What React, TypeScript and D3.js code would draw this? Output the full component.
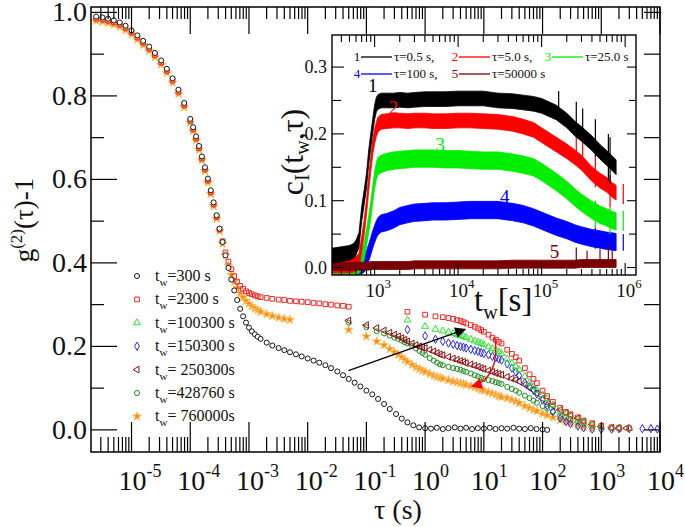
import React from "react";
import * as d3 from "d3";

const FONT = "'Liberation Serif', 'Times New Roman', Times, 'DejaVu Serif', serif";

// ---------------- main plot data : g2(tau)-1 ----------------
const tauEarly = [
  2.5e-6, 3.2e-6, 4e-6, 5e-6, 6.3e-6, 7.9e-6, 1e-5, 1.26e-5, 1.58e-5, 2e-5, 2.5e-5, 3.2e-5, 4e-5, 5e-5, 6.3e-5, 7.9e-5,
  1e-4, 1.12e-4, 1.26e-4, 1.41e-4, 1.58e-4, 1.78e-4, 2e-4, 2.24e-4, 2.5e-4, 2.82e-4, 3.16e-4, 3.55e-4, 3.98e-4, 4.47e-4,
  5.01e-4, 5.62e-4, 6.31e-4, 7.08e-4, 7.94e-4, 8.91e-4, 1e-3, 1.12e-3, 1.26e-3, 1.41e-3, 1.58e-3,
  2e-3, 2.5e-3, 3.2e-3, 4e-3, 5e-3, 6.3e-3, 7.9e-3, 0.01, 0.0126, 0.0158, 0.02, 0.025, 0.032, 0.04, 0.05, 0.063, 0.079,
  0.1, 0.126, 0.158, 0.2, 0.25, 0.32, 0.4, 0.5, 0.63, 0.79, 1, 1.26, 1.58, 2, 2.5, 3.2, 4, 5, 6.3, 7.9, 10, 12.6, 15.8,
  20, 25, 32, 40, 50, 63, 79, 100, 120,
];
const g300 = [
  0.99, 0.988, 0.985, 0.981, 0.976, 0.968, 0.957, 0.945, 0.932, 0.918, 0.903, 0.885, 0.865, 0.842, 0.815, 0.783,
  0.745, 0.725, 0.703, 0.68, 0.655, 0.629, 0.602, 0.574, 0.545, 0.514, 0.482, 0.45, 0.418, 0.388, 0.36, 0.334, 0.311,
  0.29, 0.272, 0.257, 0.245, 0.236, 0.229, 0.223, 0.218,
  0.209, 0.202, 0.196, 0.191, 0.186, 0.181, 0.176, 0.171, 0.166, 0.161, 0.155, 0.148, 0.14, 0.131, 0.122, 0.113, 0.104,
  0.094, 0.085, 0.074, 0.062, 0.05, 0.038, 0.027, 0.018, 0.011, 0.006, 0.004, 0.003, 0.005, 0.002, 0.004, 0.006, 0.003,
  0.005, 0.002, 0.004, 0.003, 0.005, 0.002, 0.004, 0.003, 0.005, 0.003, 0.002, 0.004, 0.002, 0.001, 0.0,
];
const g2300a = [
  0.985, 0.983, 0.98, 0.976, 0.971, 0.963, 0.952, 0.94, 0.927, 0.913, 0.898, 0.88, 0.86, 0.837, 0.81, 0.778,
  0.74, 0.72, 0.698, 0.675, 0.65, 0.624, 0.597, 0.569, 0.54, 0.51, 0.48, 0.452, 0.425, 0.403, 0.385, 0.368, 0.355,
  0.345, 0.338, 0.332, 0.328, 0.325, 0.322, 0.32, 0.318,
  0.316, 0.314, 0.312, 0.311, 0.309, 0.308, 0.307, 0.306, 0.304, 0.303, 0.301, 0.3, 0.298, 0.297, 0.295,
];
const g760000a = [
  0.98, 0.978, 0.975, 0.971, 0.966, 0.958, 0.947, 0.935, 0.922, 0.908, 0.893, 0.875, 0.855, 0.832, 0.805, 0.773,
  0.736, 0.716, 0.694, 0.671, 0.646, 0.62, 0.593, 0.565, 0.536, 0.506, 0.476, 0.446, 0.418, 0.393, 0.372, 0.355, 0.34,
  0.328, 0.318, 0.309, 0.302, 0.296, 0.291, 0.287, 0.283,
  0.277, 0.273, 0.269, 0.266, 0.264,
];

const tauA = [
  0.05, 0.1, 0.15, 0.2, 0.25, 0.3, 0.35, 0.4, 0.45, 0.5, 0.6, 0.7, 0.8, 0.9, 1, 1.2, 1.4, 1.6, 1.8, 2, 2.5, 3, 3.5, 4,
  4.5, 5, 6, 7, 8, 9, 10, 12, 14, 16, 18, 20, 25, 30, 35, 40, 50, 60, 70, 80, 100, 120, 150, 200, 250, 300, 400, 500,
  700, 1000, 1500, 2000, 2700,
];
const g250300 = [
  0.262, 0.251, 0.244, 0.238, 0.233, 0.228, 0.224, 0.22, 0.216, 0.212, 0.207, 0.203, 0.2, 0.198, 0.196, 0.192, 0.188,
  0.184, 0.181, 0.179, 0.175, 0.171, 0.168, 0.165, 0.163, 0.16, 0.157, 0.154, 0.151, 0.148, 0.146, 0.142, 0.139, 0.136,
  0.134, 0.132, 0.127, 0.123, 0.12, 0.116, 0.108, 0.101, 0.095, 0.088, 0.075, 0.066, 0.058, 0.048, 0.04, 0.034, 0.028,
  0.02, 0.013, 0.008, 0.005, 0.004, 0.004,
];
const g428760 = [
  0.257, 0.246, 0.236, 0.231, 0.226, 0.221, 0.218, 0.214, 0.21, 0.207, 0.201, 0.195, 0.189, 0.184, 0.18, 0.172, 0.166,
  0.161, 0.157, 0.155, 0.151, 0.148, 0.146, 0.144, 0.141, 0.139, 0.135, 0.131, 0.128, 0.125, 0.122, 0.119, 0.117, 0.114,
  0.112, 0.11, 0.103, 0.098, 0.094, 0.089, 0.082, 0.076, 0.07, 0.065, 0.057, 0.051, 0.043, 0.034, 0.029, 0.025, 0.02,
  0.016,
];
const g760000b = [
  0.24, 0.224, 0.212, 0.203, 0.194, 0.186, 0.18, 0.174, 0.168, 0.163, 0.156, 0.15, 0.146, 0.142, 0.139, 0.134, 0.13,
  0.127, 0.125, 0.123, 0.119, 0.116, 0.114, 0.112, 0.11, 0.108, 0.105, 0.102, 0.099, 0.096, 0.094, 0.09, 0.087, 0.084,
  0.081, 0.079, 0.076, 0.072, 0.068, 0.064, 0.057, 0.052, 0.048, 0.045, 0.039, 0.035, 0.03, 0.024, 0.02, 0.016, 0.011,
  0.007, 0.004,
];

const tauB = [
  0.5, 1, 1.5, 2, 2.5, 3, 3.5, 4, 4.5, 5, 6, 7, 8, 9, 10, 12, 14, 16, 18, 20, 25, 30, 35, 40, 50, 60, 70, 80, 100, 120,
  150, 200, 250, 300, 400, 500, 700, 1000, 1500, 2000, 3000, 5000, 7000, 9000,
];
const g2300b = [
  0.283, 0.276, 0.272, 0.27, 0.268, 0.266, 0.263, 0.261, 0.258, 0.255, 0.251, 0.247, 0.243, 0.239, 0.235, 0.228, 0.221,
  0.216, 0.211, 0.207, 0.192, 0.182, 0.174, 0.166, 0.148, 0.133, 0.122, 0.112, 0.094, 0.081, 0.067, 0.053, 0.043, 0.037,
  0.03, 0.022, 0.016, 0.009, 0.006, 0.005, 0.004,
];
const g100300 = [
  0.263, 0.248, 0.241, 0.237, 0.234, 0.231, 0.228, 0.226, 0.224, 0.221, 0.217, 0.213, 0.21, 0.207, 0.204, 0.199, 0.195,
  0.191, 0.187, 0.183, 0.17, 0.16, 0.152, 0.144, 0.128, 0.113, 0.103, 0.094, 0.084, 0.075, 0.06, 0.045, 0.04, 0.035,
  0.024, 0.018, 0.012, 0.007, 0.005, 0.005, 0.004,
];
const g150300 = [
  0.24, 0.225, 0.217, 0.212, 0.208, 0.205, 0.202, 0.2, 0.198, 0.196, 0.193, 0.19, 0.188, 0.185, 0.183, 0.18, 0.176,
  0.173, 0.17, 0.167, 0.158, 0.148, 0.139, 0.13, 0.113, 0.104, 0.095, 0.086, 0.072, 0.058, 0.044, 0.028, 0.02, 0.015,
  0.009, 0.005, 0.002, 0.001, 0.002, 0.003, 0.003, 0.003, 0.003, 0.002,
];

const legendLabels = ["=300 s", "=2300 s", "=100300 s", "=150300 s", "= 250300s", "=428760 s", "= 760000s"];
const xTickExps = [-5, -4, -3, -2, -1, 0, 1, 2, 3, 4];
const yTickValues = [0, 0.2, 0.4, 0.6, 0.8, 1.0];
const yTickLabels = ["0.0", "0.2", "0.4", "0.6", "0.8", "1.0"];

// arrows (data coordinates)
const blackArrow = [[0.0495, 0.142], [4.8, 0.241]];
const redArrow = [[15.5, 0.22], [18.9, 0.125], [6.3, 0.104]];

// ---------------- inset data : c_I(t_w, tau) ----------------
const tw = [
  310, 400, 500, 560, 600, 650, 700, 750, 800, 850, 900, 950, 1000, 1050, 1100, 1200, 1400, 1700, 2000, 2500, 3000,
  4000, 5000, 7000, 10000, 14000, 20000, 30000, 45000, 60000, 80000, 100000, 150000, 200000, 250000, 300000, 400000,
  500000, 600000, 700000, 780000,
];
const cI1 = [
  0.018, 0.02, 0.022, 0.025, 0.03, 0.041, 0.08, 0.105, 0.13, 0.165, 0.19, 0.212, 0.232, 0.244, 0.248, 0.25, 0.25, 0.25,
  0.251, 0.25, 0.251, 0.252, 0.252, 0.252, 0.253, 0.253, 0.253, 0.25, 0.249, 0.247, 0.245, 0.242, 0.232, 0.22, 0.208,
  0.2, 0.186, 0.173, 0.164, 0.156, 0.15,
];
const cI2 = [
  0.003, 0.003, 0.003, 0.004, 0.006, 0.01, 0.035, 0.06, 0.09, 0.125, 0.155, 0.18, 0.196, 0.207, 0.214, 0.218, 0.219,
  0.22, 0.22, 0.219, 0.22, 0.22, 0.219, 0.219, 0.22, 0.22, 0.219, 0.218, 0.215, 0.211, 0.206, 0.198, 0.184, 0.174,
  0.165, 0.157, 0.14, 0.13, 0.124, 0.116, 0.112,
];
const cI3 = [
  0.003, 0.003, 0.003, 0.003, 0.003, 0.004, 0.01, 0.025, 0.045, 0.065, 0.085, 0.11, 0.13, 0.145, 0.152, 0.155, 0.158,
  0.16, 0.161, 0.162, 0.163, 0.163, 0.163, 0.162, 0.162, 0.161, 0.16, 0.16, 0.157, 0.154, 0.15, 0.143, 0.128, 0.116,
  0.105, 0.097, 0.086, 0.079, 0.075, 0.071, 0.069,
];
const cI4 = [
  0.003, 0.003, 0.003, 0.003, 0.003, 0.003, 0.004, 0.006, 0.012, 0.022, 0.032, 0.042, 0.05, 0.057, 0.062, 0.066, 0.068,
  0.072, 0.077, 0.08, 0.082, 0.083, 0.084, 0.084, 0.085, 0.086, 0.086, 0.086, 0.083, 0.08, 0.075, 0.07, 0.061, 0.056,
  0.051, 0.048, 0.044, 0.042, 0.04, 0.039, 0.038,
];
const cI5 = [
  0.002, 0.002, 0.002, 0.002, 0.002, 0.002, 0.002, 0.002, 0.002, 0.002, 0.003, 0.003, 0.003, 0.003, 0.003, 0.003,
  0.003, 0.003, 0.003, 0.003, 0.004, 0.004, 0.004, 0.004, 0.004, 0.004, 0.004, 0.004, 0.005, 0.005, 0.005, 0.005,
  0.005, 0.005, 0.005, 0.006, 0.006, 0.006, 0.006, 0.006, 0.006,
];
const insetNoise = [0.011, 0.011, 0.013, 0.013, 0.006];
const spikes1 = [[160000, 0.23, 0.264], [260000, 0.2, 0.248], [310000, 0.19, 0.238], [440000, 0.165, 0.222], [630000, 0.13, 0.2], [660000, 0.125, 0.195]];
const spikes2 = [[260000, 0.16, 0.205], [310000, 0.15, 0.195], [440000, 0.12, 0.165], [660000, 0.09, 0.138], [950000, 0.095, 0.125]];
const spikes3 = [[440000, 0.06, 0.1], [660000, 0.05, 0.09], [950000, 0.055, 0.085]];
const spikes4 = [[440000, 0.028, 0.06], [950000, 0.025, 0.05]];
const spikes5 = [[260000, 0.0, 0.03], [350000, 0.0, 0.025], [500000, 0.0, 0.028], [630000, 0.0, 0.032], [700000, 0.0, 0.026]];
const insetNums = ["1", "2", "3", "4", "5"];
const insetLegend = ["τ=0.5 s,", "τ=5.0 s,", "τ=25.0 s", "τ=100 s,", "τ=50000 s"];
const insetLabelPos = [[950, 0.262], [1680, 0.23], [6100, 0.174], [36300, 0.097], [143000, 0.014]];
const insetXExps = [3, 4, 5, 6];
const insetYTicks = [0, 0.1, 0.2, 0.3];

// ---------------- styles ----------------
const INSET_COLORS = ["#000000", "#ff0000", "#00ee00", "#0000ff", "#7a0000"];

export default function App() {
  const xM = d3.scaleLog().domain([10 ** -5.69, 1e4]).range([91, 660]);
  const yM = d3.scaleLinear().domain([-0.053, 1.013]).range([452, 7]);
  const xI = d3.scaleLog().domain([10 ** 2.49, 10 ** 6.13]).range([332, 636]);
  const yI = d3.scaleLinear().domain([-0.0112, 0.348]).range([275, 35]);

  const sym = (type: any, size: number) => d3.symbol().type(type).size(size)() as string;
  const shapes = {
    circle: sym(d3.symbolCircle, 20),
    square: sym(d3.symbolSquare, 22),
    triangle: sym(d3.symbolTriangle, 20),
    diamond: sym(d3.symbolDiamond, 20),
    star: sym(d3.symbolStar, 24),
  };

  const series = [
    { label: legendLabels[0], shape: shapes.circle, color: "#151515", fill: "#ffffff", rot: 0, segs: [[tauEarly, g300]] },
    { label: legendLabels[1], shape: shapes.square, color: "#f02828", fill: "none", rot: 0, segs: [[tauEarly, g2300a], [tauB, g2300b]] },
    { label: legendLabels[2], shape: shapes.triangle, color: "#2fe02f", fill: "none", rot: 0, segs: [[tauB, g100300]] },
    { label: legendLabels[3], shape: shapes.diamond, color: "#2a2af0", fill: "none", rot: 0, segs: [[tauB, g150300]] },
    { label: legendLabels[4], shape: shapes.triangle, color: "#8a1212", fill: "none", rot: -90, segs: [[tauA, g250300]] },
    { label: legendLabels[5], shape: shapes.circle, color: "#1f8a1f", fill: "none", rot: 0, segs: [[tauA, g428760]] },
    { label: legendLabels[6], shape: shapes.star, color: "#ffc060", fill: "#ff8a10", rot: 0, segs: [[tauEarly, g760000a], [tauA, g760000b]] },
  ];
  const drawOrder = [6, 5, 4, 3, 2, 1, 0];

  const logTicks = (lo: number, hi: number) => {
    const out: { v: number; major: boolean }[] = [];
    for (let e = Math.floor(Math.log10(lo)); e <= Math.ceil(Math.log10(hi)); e++) {
      for (let k = 1; k <= 9; k++) {
        const v = k * Math.pow(10, e);
        if (v >= lo * 0.9999 && v <= hi * 1.0001) out.push({ v, major: k === 1 });
      }
    }
    return out;
  };
  const mainXTicks = logTicks(10 ** -5.69, 1e4);
  const insetXTicks = logTicks(10 ** 2.49, 10 ** 6.13);
  const mainYTicks = d3.range(0, 11).map((i) => ({ v: i / 10, major: i % 2 === 0 }));
  const insetYT = d3.range(0, 7).map((i) => ({ v: i * 0.05, major: i % 2 === 0 }));

  const insetCurves = [cI1, cI2, cI3, cI4, cI5];
  const insetSpikes = [spikes1, spikes2, spikes3, spikes4, spikes5];
  const insetOrder = [3, 2, 1, 4, 0];

  const area = (vals: number[], w: number) =>
    d3
      .area<number>()
      .x((_, i) => xI(tw[i]))
      .y0((d) => yI(d - w))
      .y1((d) => yI(d + w))(vals) as string;

  const redPath = (() => {
    const p = d3.path();
    p.moveTo(xM(redArrow[0][0]), yM(redArrow[0][1]));
    p.quadraticCurveTo(xM(redArrow[1][0]), yM(redArrow[1][1]), xM(redArrow[2][0]), yM(redArrow[2][1]));
    return p.toString();
  })();

  const insetLegendPos = [
    [357, 57],
    [455, 57],
    [548, 57],
    [357, 74],
    [455, 74],
  ];

  const tf = { fontFamily: FONT };

  return (
    <svg
      width={685}
      height={527}
      viewBox="0 0 685 527"
      style={{ position: "absolute", left: 0, top: 0, display: "block", background: "#fff", fontFamily: FONT }}
    >
      <style>{`text, tspan { font-family: "Liberation Serif", "Times New Roman", Times, serif; }`}</style>
      <defs>
        <marker id="ahBlack" viewBox="0 0 10 10" refX="9" refY="5" markerWidth="14" markerHeight="11" markerUnits="userSpaceOnUse" orient="auto">
          <path d="M0,0 L10,5 L0,10 z" fill="#000" />
        </marker>
        <marker id="ahRed" viewBox="0 0 10 10" refX="9" refY="5" markerWidth="14" markerHeight="11" markerUnits="userSpaceOnUse" orient="auto">
          <path d="M0,0 L10,5 L0,10 z" fill="#ff0000" />
        </marker>
        <clipPath id="insetClip">
          <rect x={332} y={35} width={304} height={240} />
        </clipPath>
      </defs>
      <rect x={0} y={0} width={685} height={527} fill="#fff" />

      {drawOrder.map((si) => {
        const s = series[si];
        return (
          <g key={si}>
            {s.segs.map(([taus, vals], k) =>
              (vals as number[]).map((v, i) => (
                <path
                  key={k + "-" + i}
                  d={s.shape}
                  transform={`translate(${xM((taus as number[])[i])},${yM(v)})${s.rot ? ` rotate(${s.rot})` : ""}`}
                  fill={s.fill}
                  stroke={s.color}
                  strokeWidth={1}
                />
              ))
            )}
          </g>
        );
      })}

      <line
        x1={xM(blackArrow[0][0])}
        y1={yM(blackArrow[0][1])}
        x2={xM(blackArrow[1][0])}
        y2={yM(blackArrow[1][1])}
        stroke="#000"
        strokeWidth={1.3}
        markerEnd="url(#ahBlack)"
      />
      <path d={redPath} fill="none" stroke="#ff0000" strokeWidth={1.3} markerEnd="url(#ahRed)" />

      <rect x={91} y={7} width={569} height={445} fill="none" stroke="#000" strokeWidth={1.5} />
      {mainXTicks.map((t, i) => (
        <g key={"mx" + i} stroke="#000" strokeWidth={1.2}>
          <line x1={xM(t.v)} x2={xM(t.v)} y1={452} y2={452 - (t.major ? 30 : 15)} />
          <line x1={xM(t.v)} x2={xM(t.v)} y1={7} y2={7 + (t.major ? 27 : 12)} />
        </g>
      ))}
      {mainYTicks.map((t, i) => (
        <g key={"my" + i} stroke="#000" strokeWidth={1.2}>
          <line x1={91} x2={91 + (t.major ? 26 : 13)} y1={yM(t.v)} y2={yM(t.v)} />
          <line x1={660} x2={660 - 16} y1={yM(t.v)} y2={yM(t.v)} />
        </g>
      ))}
      {yTickValues.map((v, i) => (
        <text key={"yl" + i} x={87} y={yM(v) + 9} fontSize={28} textAnchor="end" fill="#111" style={tf}>
          {yTickLabels[i]}
        </text>
      ))}
      {xTickExps.map((e) => (
        <text key={"xl" + e} x={xM(10 ** e) - 13} y={490} fontSize={28} fill="#111" style={tf}>
          10
          <tspan dy={-13} fontSize={18}>
            {e}
          </tspan>
        </text>
      ))}
      <text x={398} y={519} fontSize={28} textAnchor="middle" fill="#111" style={tf}>
        τ (s)
      </text>
      <text transform="translate(33,220) rotate(-90)" fontSize={27} textAnchor="middle" fill="#111" style={tf}>
        g
        <tspan dy={-11} fontSize={17}>
          (2)
        </tspan>
        <tspan dy={11}>(τ)-1</tspan>
      </text>

      {series.map((s, i) => {
        const y = 276 + i * 23.4;
        return (
          <g key={"lg" + i}>
            <path
              d={s.shape}
              transform={`translate(137,${y})${s.rot ? ` rotate(${s.rot})` : ""}`}
              fill={s.fill}
              stroke={s.color}
              strokeWidth={1}
            />
            <text x={155} y={y + 5} fontSize={16} fill="#111" style={tf}>
              t
              <tspan dy={5} fontSize={11}>
                w
              </tspan>
              <tspan dy={-5}>{s.label}</tspan>
            </text>
          </g>
        );
      })}

      <rect x={332} y={35} width={304} height={240} fill="#fff" />
      <g clipPath="url(#insetClip)">
        {insetOrder.map((ci) => (
          <g key={"ic" + ci}>
            <path d={area(insetCurves[ci], insetNoise[ci])} fill={INSET_COLORS[ci]} stroke={INSET_COLORS[ci]} strokeWidth={0.8} />
            {insetSpikes[ci].map((sp, j) => (
              <line
                key={j}
                x1={xI(sp[0])}
                x2={xI(sp[0])}
                y1={yI(sp[1])}
                y2={yI(sp[2])}
                stroke={INSET_COLORS[ci]}
                strokeWidth={1.2}
              />
            ))}
          </g>
        ))}
      </g>
      {insetLabelPos.map((p, i) => (
        <text key={"il" + i} x={xI(p[0])} y={yI(p[1])} fontSize={19} textAnchor="middle" fill={INSET_COLORS[i]} style={tf}>
          {insetNums[i]}
        </text>
      ))}
      {insetLegend.map((lab, i) => {
        const [x, y] = insetLegendPos[i];
        return (
          <g key={"ilg" + i}>
            <text x={x} y={y + 4} fontSize={13} textAnchor="middle" fill={INSET_COLORS[i]} style={tf}>
              {insetNums[i]}
            </text>
            <line x1={x + 4} x2={x + 35} y1={y} y2={y} stroke={INSET_COLORS[i]} strokeWidth={1.3} />
            <text x={x + 37} y={y + 4} fontSize={13} fill="#111" style={tf}>
              {lab}
            </text>
          </g>
        );
      })}
      <rect x={332} y={35} width={304} height={240} fill="none" stroke="#000" strokeWidth={1.4} />
      {insetXTicks.map((t, i) => (
        <g key={"ix" + i} stroke="#000" strokeWidth={1.1}>
          <line x1={xI(t.v)} x2={xI(t.v)} y1={275} y2={275 - (t.major ? 12 : 6)} />
          <line x1={xI(t.v)} x2={xI(t.v)} y1={35} y2={35 + (t.major ? 12 : 7)} />
        </g>
      ))}
      {insetYT.map((t, i) => (
        <g key={"iy" + i} stroke="#000" strokeWidth={1.1}>
          <line x1={332} x2={332 + (t.major ? 12 : 9)} y1={yI(t.v)} y2={yI(t.v)} />
          <line x1={636} x2={636 - (t.major ? 9 : 7)} y1={yI(t.v)} y2={yI(t.v)} />
        </g>
      ))}
      {insetYTicks.map((v) => (
        <text key={"iyl" + v} x={327} y={yI(v) + 6} fontSize={18} textAnchor="end" fill="#111" style={tf}>
          {v.toFixed(1)}
        </text>
      ))}
      {insetXExps.map((e) => (
        <text key={"ixl" + e} x={xI(10 ** e) - 9} y={297} fontSize={19} fill="#111" style={tf}>
          10
          <tspan dy={-9} fontSize={13}>
            {e}
          </tspan>
        </text>
      ))}
      <text x={474} y={311} fontSize={33} fill="#111" style={tf}>
        t
        <tspan dy={8} fontSize={20}>
          w
        </tspan>
        <tspan dy={-8}>[s]</tspan>
      </text>
      <text transform="translate(303,152) rotate(-90)" fontSize={32} textAnchor="middle" fill="#111" style={tf}>
        c
        <tspan dy={6} fontSize={20}>
          I
        </tspan>
        <tspan dy={-6}>(t</tspan>
        <tspan dy={6} fontSize={20}>
          w
        </tspan>
        <tspan dy={-6}>,τ)</tspan>
      </text>
    </svg>
  );
}
